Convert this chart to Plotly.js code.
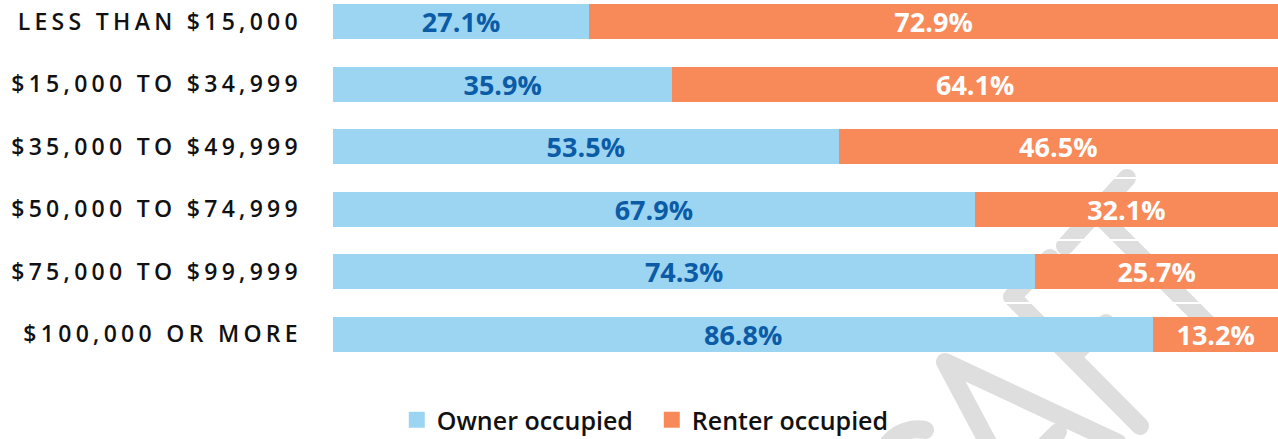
<!DOCTYPE html>
<html>
<head>
<meta charset="utf-8">
<script src="https://cdn.plot.ly/plotly-3.0.1.min.js"></script>
<style>
  html, body { margin: 0; padding: 0; background: #ffffff; }
  #wrap { position: relative; width: 1278px; height: 439px; overflow: hidden; }
  #watermark { position: absolute; left: 0; top: 0; z-index: 0; }
  #chart { position: absolute; left: 0; top: 0; width: 1278px; height: 439px; z-index: 1; }
  #chart .ytick text { letter-spacing: 4.3px; }
</style>
</head>
<body>
<div id="wrap">
  <svg id="watermark" width="1278" height="439" viewBox="0 0 1278 439">
    <g fill="none" stroke="#DEDEDE" stroke-width="18" stroke-linecap="round" stroke-linejoin="round">
      <path d="M880,470 A38,38 0 0 1 925,430"/>
      <path d="M1118,443 L945,362 L1035,531"/>
      <path d="M1058,432 L1000,490"/>
      <path d="M1050,258 L1012,297 L1140,426"/>
      <path d="M1072,357 L1106,323"/>
      <path d="M1065,246 L1127,178"/>
      <path d="M1096,212 L1226,342"/>
    </g>
  </svg>
  <div id="chart"></div>
</div>
<script>
const categories = [
  "LESS THAN $15,000",
  "$15,000 TO $34,999",
  "$35,000 TO $49,999",
  "$50,000 TO $74,999",
  "$75,000 TO $99,999",
  "$100,000 OR MORE"
];
const ownerOccupied = [27.1, 35.9, 53.5, 67.9, 74.3, 86.8];
const renterOccupied = [72.9, 64.1, 46.5, 32.1, 25.7, 13.2];
const seriesNames = ["Owner occupied", "Renter occupied"];

const fmt = v => v.toFixed(1) + "%";
const FONT = "Open Sans, Noto Sans, sans-serif";
const labelFont = { family: FONT, size: 27, weight: 700 };

const traces = [
  {
    type: "bar", orientation: "h", name: seriesNames[0],
    y: categories, x: ownerOccupied,
    marker: { color: "#9BD5F2", line: { width: 0 } },
    text: ownerOccupied.map(fmt), textposition: "inside", insidetextanchor: "middle",
    constraintext: "none",
    textfont: Object.assign({ color: "#0B5BA6" }, labelFont),
    hoverinfo: "none"
  },
  {
    type: "bar", orientation: "h", name: seriesNames[1],
    y: categories, x: renterOccupied,
    marker: { color: "#F88A5A", line: { width: 0 } },
    text: renterOccupied.map(fmt), textposition: "inside", insidetextanchor: "middle",
    constraintext: "none",
    textfont: Object.assign({ color: "#FFFFFF" }, labelFont),
    hoverinfo: "none"
  }
];

const layout = {
  width: 1278, height: 439,
  margin: { l: 333, r: 0, t: 0, b: 63 },
  barmode: "stack",
  bargap: 0.44,
  paper_bgcolor: "rgba(0,0,0,0)",
  plot_bgcolor: "rgba(0,0,0,0)",
  font: { family: FONT, color: "#111111" },
  xaxis: {
    range: [0, 100], showgrid: false, zeroline: false, showline: false,
    showticklabels: false, ticks: "", fixedrange: true
  },
  yaxis: {
    type: "category", categoryorder: "array", categoryarray: categories,
    range: [5.672, -0.344], showgrid: true, tickson: "boundaries",
    gridcolor: "#ffffff", gridwidth: 2,
    zeroline: false, showline: false,
    ticks: "", ticklabelstandoff: 30,
    tickfont: { family: FONT, size: 23, color: "#111111", weight: 600 },
    fixedrange: true
  },
  showlegend: true,
  legend: {
    orientation: "h", xref: "container", yref: "container",
    x: 0.51, xanchor: "center", y: 0.043, yanchor: "middle",
    entrywidth: 210, entrywidthmode: "pixels",
    font: { family: FONT, size: 25, color: "#111111", weight: 600 },
    itemclick: false, itemdoubleclick: false, traceorder: "normal",
    bgcolor: "rgba(0,0,0,0)"
  }
};

function enlargeLegendSymbols() {
  document.querySelectorAll("#chart .legendpoints path").forEach(p => {
    p.setAttribute("d", "M8,8H-8V-8H8Z");
  });
}

Plotly.newPlot("chart", traces, layout, { displayModeBar: false, staticPlot: true })
  .then(enlargeLegendSymbols);
</script>
</body>
</html>
